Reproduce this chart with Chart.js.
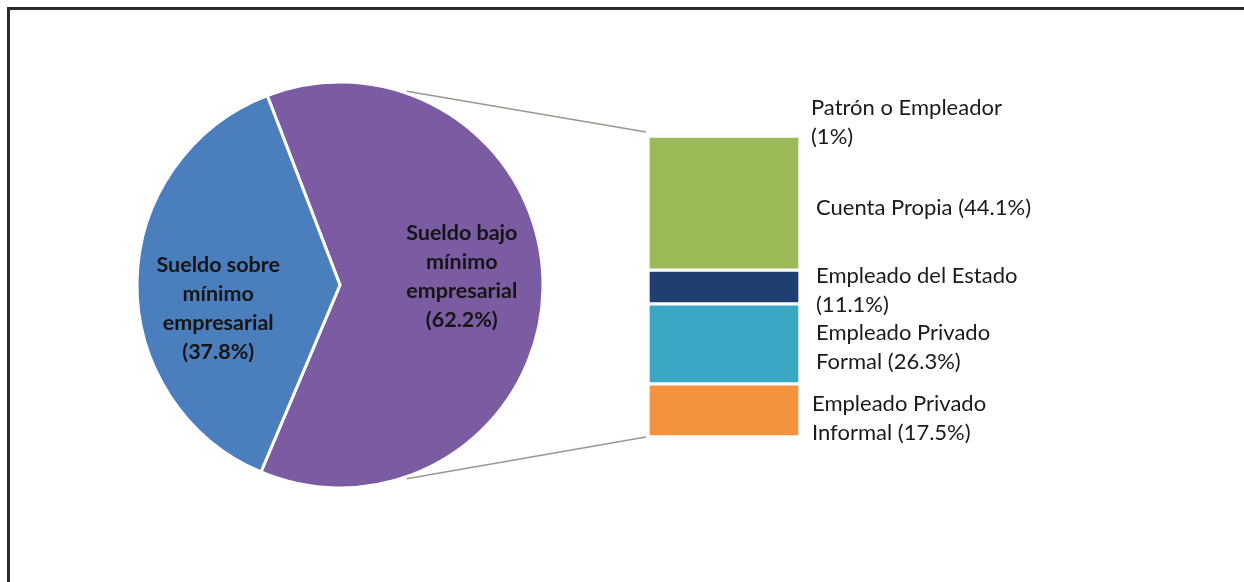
<!DOCTYPE html>
<html>
<head>
<meta charset="utf-8">
<script src="https://cdn.jsdelivr.net/npm/chart.js@4.4.1/dist/chart.umd.min.js"></script>
<style>
body { margin: 0; background: #fff; }
#wrap { position: relative; width: 1244px; height: 582px; overflow: hidden; }
#frame { position: absolute; left: 7px; top: 7px; width: 1300px; height: 700px;
         border-top: 3px solid #2b2b2b; border-left: 3px solid #2b2b2b; }
canvas { position: absolute; left: 0; top: 0; }
</style>
</head>
<body>
<div id="wrap">
  <div id="frame"></div>
  <canvas id="pieChart" width="1244" height="582"></canvas>
  <canvas id="barChart" width="1244" height="582"></canvas>
</div>
<script>
// pie: salary vs minimum
var pieLabels = [["Sueldo bajo", "mínimo", "empresarial", "(62.2%)"],
                 ["Sueldo sobre", "mínimo", "empresarial", "(37.8%)"]];
var pieValues = [62.2, 37.8];
var pieColors = ["#7b5ba1", "#4a7ebd"];

// bar breakdown, stacked bottom to top
var barLabels = [["Empleado Privado", "Informal (17.5%)"],
                 ["Empleado Privado", "Formal (26.3%)"],
                 ["Empleado del Estado", "(11.1%)"],
                 ["Cuenta Propia (44.1%)"],
                 ["Patrón o Empleador", "(1%)"]];
var barValues = [17.5, 26.3, 11.1, 44.1, 1];
var barColors = ["#f4923d", "#3aa8c5", "#1f3f70", "#9bbb59", "#f3f6ec"];

var FONT = "Lato, 'Open Sans', sans-serif";

// labels inside the pie slices
var pieLabelPlugin = {
    id: 'pieLabels',
    afterDatasetsDraw: function(chart) {
        var ctx = chart.ctx;
        var nudge = [-10, 26];
        chart.getDatasetMeta(0).data.forEach(function(arc, i) {
            var mid = (arc.startAngle + arc.endAngle) / 2;
            var r = arc.outerRadius * 0.6;
            var x = arc.x + Math.cos(mid) * r;
            var y = arc.y + Math.sin(mid) * r + nudge[i];
            var lines = pieLabels[i];
            var lh = 29;
            ctx.save();
            ctx.font = "bold 21.5px " + FONT;
            ctx.fillStyle = "#151515";
            ctx.textAlign = "center";
            ctx.textBaseline = "middle";
            lines.forEach(function(t, k) {
                ctx.fillText(t, x, y + (k - (lines.length - 1) / 2) * lh);
            });
            ctx.restore();
        });
    }
};

var pieChart = new Chart(document.getElementById('pieChart').getContext('2d'), {
    type: 'pie',
    data: {
        labels: pieLabels.map(function(l) { return l.join(' '); }),
        datasets: [{
            data: pieValues,
            backgroundColor: pieColors,
            borderColor: '#ffffff',
            borderWidth: 3,
            hoverOffset: 0
        }]
    },
    options: {
        responsive: false,
        animation: false,
        rotation: -21,
        radius: 203,
        layout: { padding: { left: 138, top: 83, right: 702, bottom: 95 } },
        plugins: { legend: { display: false }, tooltip: { enabled: false } }
    },
    plugins: [pieLabelPlugin]
});

// labels right of the bar + connector lines to the pie
var barLabelPlugin = {
    id: 'barLabels',
    afterDatasetsDraw: function(chart) {
        var ctx = chart.ctx;
        var shift = [[-4, 8], [0, 4], [0, 3], [0, 5], [-5, -12]];
        ctx.save();
        ctx.font = "22px " + FONT;
        ctx.fillStyle = "#1a1a1a";
        ctx.textAlign = "left";
        ctx.textBaseline = "middle";
        barLabels.forEach(function(lines, i) {
            var bar = chart.getDatasetMeta(i).data[0];
            var x = bar.x + bar.width / 2 + 16 + shift[i][0];
            var y = (bar.y + bar.base) / 2 + shift[i][1];
            lines.forEach(function(t, k) {
                ctx.fillText(t, x, y + (k - (lines.length - 1) / 2) * 29);
            });
        });
        ctx.restore();

        // connectors
        var arc = pieChart.getDatasetMeta(0).data[0];
        var top = chart.getDatasetMeta(barValues.length - 1).data[0];
        var bottom = chart.getDatasetMeta(0).data[0];
        var left = top.x - top.width / 2 - 2;
        var a = 71 * Math.PI / 180;
        var r = arc.outerRadius + 2;
        ctx.save();
        ctx.strokeStyle = "#9e958f";
        ctx.lineWidth = 1.5;
        ctx.beginPath();
        ctx.moveTo(arc.x + Math.cos(-a) * r, arc.y + Math.sin(-a) * r);
        ctx.lineTo(left, top.y - 1);
        ctx.moveTo(arc.x + Math.cos(a) * r, arc.y + Math.sin(a) * r);
        ctx.lineTo(left, bottom.base);
        ctx.stroke();
        ctx.restore();
    }
};

var barChart = new Chart(document.getElementById('barChart').getContext('2d'), {
    type: 'bar',
    data: {
        labels: [''],
        datasets: barValues.map(function(v, i) {
            return {
                label: barLabels[i].join(' '),
                data: [v],
                backgroundColor: barColors[i],
                borderColor: '#ffffff',
                borderWidth: 2,
                borderSkipped: false,
                barPercentage: 1,
                categoryPercentage: 1
            };
        })
    },
    options: {
        responsive: false,
        animation: false,
        layout: { padding: { left: 648, top: 133, right: 444, bottom: 145 } },
        scales: {
            x: { stacked: true, display: false },
            y: { stacked: true, display: false, min: 0, max: 100 }
        },
        plugins: { legend: { display: false }, tooltip: { enabled: false } }
    },
    plugins: [barLabelPlugin]
});
</script>
</body>
</html>
